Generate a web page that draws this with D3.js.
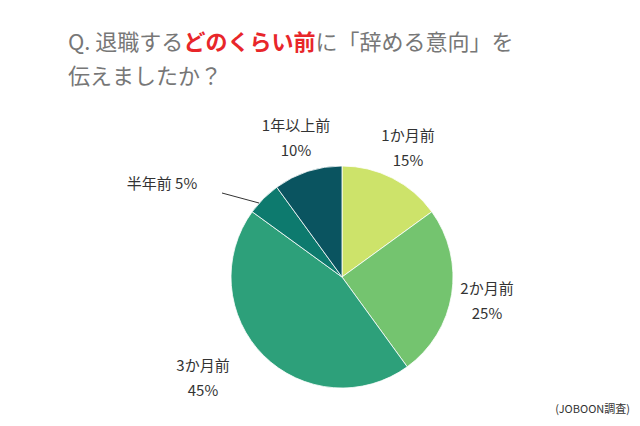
<!DOCTYPE html>
<html><head><meta charset="utf-8">
<script src="https://cdn.jsdelivr.net/npm/d3@7"></script>
<style>body{margin:0;background:#fff}</style></head>
<body><svg id="c" width="640" height="426"></svg>
<script>
const categories = ["1か月前","2か月前","3か月前","半年前","1年以上前"];
const values = [15,25,45,5,10];
const colors = ["#cde36a","#74c46f","#2da07a","#0d7a6e","#0a5460"];
const svg = d3.select("#c");
const F = "'Noto Sans CJK JP','Noto Sans',sans-serif";
const t = svg.append("text").attr("x",68).attr("y",50).attr("font-family",F).attr("font-size",22).attr("fill","#777");
t.append("tspan").text("Q. 退職する");
t.append("tspan").text("どのくらい前").attr("fill","#e8262a").attr("font-weight","bold");
t.append("tspan").text("に「辞める意向」を");
svg.append("text").attr("x",68).attr("y",84).attr("font-family",F).attr("font-size",22).attr("fill","#777").text("伝えましたか？");
const cx=342,cy=277,r=111;
const pie=d3.pie().sort(null)(values);
const arc=d3.arc().innerRadius(0).outerRadius(r);
const g=svg.append("g").attr("transform",`translate(${cx},${cy})`);
g.selectAll("path").data(pie).join("path").attr("d",arc).attr("fill",(d,i)=>colors[i]).attr("stroke","#fff").attr("stroke-width",0.8);
const labels=[
 {l:[categories[0],values[0]+"%"],x:408,y:141},
 {l:[categories[1],values[1]+"%"],x:487,y:294},
 {l:[categories[2],values[2]+"%"],x:203,y:371},
 {l:[categories[4],values[4]+"%"],x:296,y:131},
 {l:[categories[3]+" "+values[3]+"%"],x:162,y:189}
];
labels.forEach(o=>{o.l.forEach((s,k)=>svg.append("text").attr("x",o.x).attr("y",o.y+k*25).attr("text-anchor","middle").attr("font-family",F).attr("font-size",15).attr("fill","#333").text(s));});
svg.append("line").attr("x1",222).attr("y1",193).attr("x2",259).attr("y2",203).attr("stroke","#333").attr("stroke-width",1);
svg.append("text").attr("x",630).attr("y",413).attr("text-anchor","end").attr("font-family",F).attr("font-size",11).attr("fill","#333").text("(JOBOON調査)");
</script></body></html>
